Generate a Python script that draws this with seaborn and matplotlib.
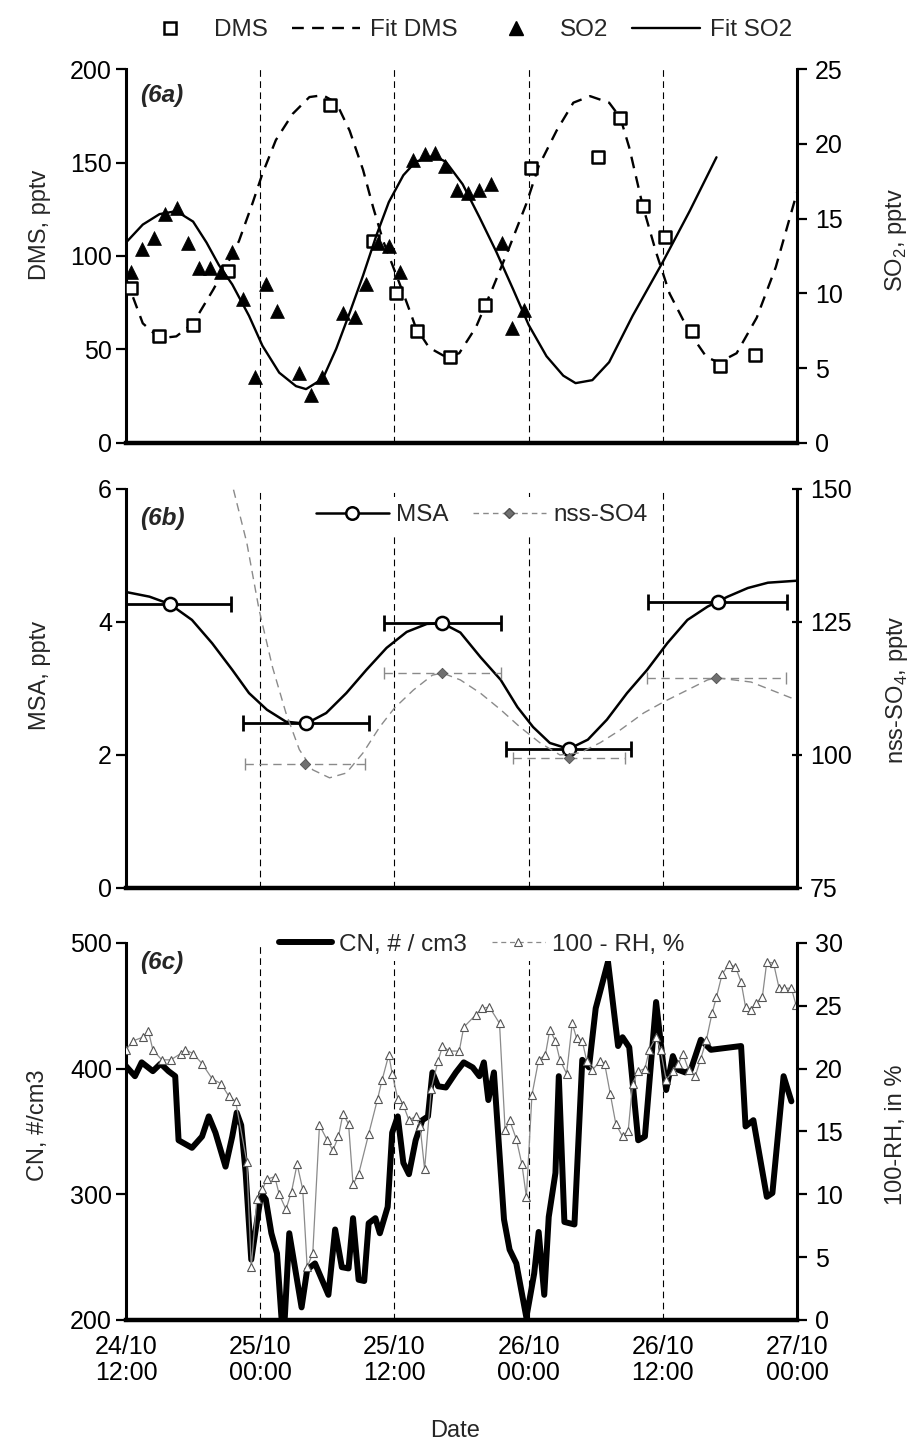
import matplotlib
matplotlib.use("Agg")
import matplotlib.pyplot as plt
from matplotlib.lines import Line2D
import seaborn as sns

# Estilo
sns.set_style("white")
plt.rcParams['font.family'] = ['Liberation Sans', 'DejaVu Sans']
plt.rcParams['mathtext.fontset'] = 'custom'
plt.rcParams['mathtext.rm'] = 'Liberation Sans'

# ---------------- datos (horas desde 24/10 12:00) ----------------
x_ticks = [0, 12, 24, 36, 48, 60]
x_ticklabels = ["24/10\n12:00", "25/10\n00:00", "25/10\n12:00",
                "26/10\n00:00", "26/10\n12:00", "27/10\n00:00"]
night_lines = [12, 24, 36, 48]

# (6a) DMS y SO2
dms_h = [0.45, 2.95, 6.0, 9.1, 18.2, 22.1, 24.1, 26.0, 29.0, 32.1, 36.2,
         42.2, 44.2, 46.2, 48.2, 50.6, 53.1, 56.2]
dms = [83, 57, 63, 92, 181, 108, 80, 60, 46, 74, 147, 153, 174, 127, 110,
       60, 41, 47]

fit_dms_h = [0, 0.5, 1.5, 3.0, 4.5, 6.0, 7.8, 8.9, 10.1, 11.3, 12.2, 13.4,
             14.9, 16.4, 17.6, 18.8, 20.0, 21.2, 22.1, 23.0, 23.9, 24.8,
             25.9, 27.1, 28.6, 29.8, 31.3, 32.8, 34.3, 35.8, 36.9, 38.5,
             40.0, 41.5, 43.2, 44.2, 45.0, 46.2, 47.4, 48.6, 50.4, 51.9,
             53.0, 54.6, 56.4, 58.1, 60.0]
fit_dms = [88, 80, 64, 56, 57, 64, 82, 94, 108, 128, 144, 162, 176, 185,
           186, 182, 167, 146, 126, 108, 94, 80, 62, 51, 46, 48, 62, 83,
           105, 128, 148, 167, 182, 185.5, 182, 174, 158, 127, 102, 80, 59,
           46, 43, 48, 67, 94, 134]

so2_h = [0.45, 1.4, 2.5, 3.5, 4.6, 5.5, 6.5, 7.5, 8.5, 9.5, 10.5, 11.5,
         12.5, 13.5, 15.5, 16.5, 17.5, 19.4, 20.5, 21.5, 22.5, 23.5, 24.5,
         25.7, 26.7, 27.6, 28.5, 29.6, 30.6, 31.6, 32.6, 33.6, 34.5, 35.6]
so2 = [11.4, 13.0, 13.7, 15.3, 15.7, 13.4, 11.7, 11.7, 11.4, 12.8, 9.6,
       4.4, 10.6, 8.8, 4.7, 3.2, 4.4, 8.7, 8.4, 10.6, 13.4, 13.2, 11.4,
       18.9, 19.3, 19.4, 18.5, 16.9, 16.7, 16.9, 17.3, 13.4, 7.7, 8.9]

fit_so2_h = [0, 1.5, 3.0, 4.5, 6.0, 7.2, 8.3, 9.5, 11.0, 12.2, 13.7, 15.2,
             16.1, 17.6, 18.8, 20.0, 21.2, 22.4, 23.5, 24.8, 25.9, 27.5,
             28.6, 30.1, 31.6, 33.1, 34.6, 36.0, 37.6, 39.1, 40.2, 41.7,
             43.2, 45.3, 48.0, 50.4, 52.8]
fit_so2 = [13.4, 14.6, 15.3, 15.5, 14.8, 13.4, 11.9, 10.6, 8.5, 6.5, 4.7,
           3.8, 3.6, 4.3, 6.3, 8.7, 11.2, 13.9, 16.1, 17.9, 18.8, 19.2,
           18.8, 17.3, 15.1, 12.8, 10.3, 7.9, 5.8, 4.5, 4.0, 4.2, 5.4, 8.5,
           12.1, 15.5, 19.1]

# (6b) MSA y nss-SO4
msa_h = [3.9, 16.1, 28.3, 39.6, 52.9]
msa = [4.27, 2.48, 3.98, 2.09, 4.30]
msa_xerr = [5.5, 5.6, 5.2, 5.6, 6.2]

msa_fit_h = [0, 2.1, 3.9, 5.9, 7.7, 9.5, 11.0, 12.6, 14.3, 16.1, 17.9, 19.7,
             21.5, 23.3, 25.1, 26.9, 28.3, 29.9, 31.7, 33.5, 35.0, 36.4,
             37.9, 39.6, 41.3, 43.0, 44.8, 46.6, 48.4, 50.2, 52.0, 53.8,
             55.6, 57.4, 60.0]
msa_fit = [4.45, 4.38, 4.27, 4.03, 3.68, 3.28, 2.93, 2.68, 2.50, 2.47, 2.63,
           2.93, 3.28, 3.61, 3.85, 3.97, 3.98, 3.84, 3.47, 3.13, 2.72, 2.42,
           2.18, 2.09, 2.23, 2.53, 2.93, 3.28, 3.68, 4.03, 4.23, 4.38, 4.51,
           4.59, 4.62]

nss_h = [16.0, 28.3, 39.6, 52.8]
nss = [98.3, 115.4, 99.4, 114.5]
nss_xerr = [5.4, 5.2, 5.0, 6.2]

nss_fit_h = [9.2, 9.5, 10.8, 11.9, 13.1, 14.3, 15.5, 16.7, 18.2, 19.7, 21.2,
             22.7, 24.0, 25.7, 27.4, 28.3, 29.9, 31.7, 33.5, 35.2, 37.0,
             38.8, 40.6, 42.4, 44.2, 46.3, 48.1, 50.2, 52.0, 52.8, 55.9,
             57.7, 59.5, 60.0]
nss_fit = [155, 150.8, 139.9, 127.3, 116.5, 107.9, 101.0, 97.2, 95.7, 96.6,
           100.4, 105.3, 108.8, 112.2, 115.0, 115.4, 114.1, 111.6, 108.5,
           105.3, 102.3, 100.0, 100.4, 102.3, 104.7, 107.9, 110.0, 112.2,
           114.1, 114.5, 113.7, 112.2, 110.7, 110.2]

# (6c) CN y 100-RH
cn_h = [0, 0.8, 1.4, 2.4, 3.1, 3.8, 4.4, 4.7, 5.9, 6.8, 7.4, 8.0, 8.9, 9.5,
        9.9, 10.3, 10.7, 11.2, 11.6, 12.1, 12.5, 13.0, 13.5, 13.9, 14.2,
        14.6, 15.7, 16.2, 16.9, 18.1, 18.7, 19.3, 19.9, 20.3, 20.8, 21.3,
        21.7, 22.3, 22.7, 23.4, 23.8, 24.3, 24.8, 25.3, 25.9, 26.5, 27.0,
        27.4, 27.9, 28.6, 29.5, 30.2, 31.0, 31.6, 32.0, 32.4, 32.9, 33.8,
        34.3, 34.9, 35.8, 36.5, 36.9, 37.4, 37.8, 38.4, 38.7, 39.2, 40.1,
        40.8, 41.4, 42.0, 43.1, 44.0, 44.4, 45.0, 45.8, 46.4, 47.4, 48.3,
        48.9, 49.4, 50.0, 50.5, 51.4, 52.3, 55.0, 55.4, 56.1, 57.3, 57.8,
        58.8, 59.5]
cn = [402, 394, 405, 398, 404, 398, 394, 343, 337, 346, 362, 349, 322, 346,
      365, 355, 317, 248, 272, 301, 296, 269, 253, 202, 202, 269, 210, 240,
      245, 220, 272, 242, 241, 281, 232, 231, 277, 281, 269, 290, 349, 362,
      325, 316, 343, 359, 362, 397, 386, 385, 397, 405, 401, 394, 405, 375,
      397, 280, 256, 245, 202, 237, 270, 220, 282, 317, 394, 278, 276, 407,
      401, 448, 485, 418, 425, 417, 343, 346, 453, 383, 410, 399, 397, 399,
      423, 415, 418, 354, 359, 298, 301, 394, 374]

rh_h = [0.0, 0.6, 1.5, 2.0, 2.4, 3.2, 4.0, 4.9, 5.3, 6.0, 6.8, 7.7, 8.5, 9.2,
        9.8, 10.8, 11.2, 11.7, 12.2, 12.6, 13.3, 13.7, 14.3, 14.8, 15.3,
        15.8, 16.2, 16.7, 17.3, 18.0, 18.5, 19.0, 19.4, 19.9, 20.3, 20.8,
        21.7, 22.5, 22.9, 23.5, 23.8, 24.3, 24.8, 25.3, 25.9, 26.3, 26.7,
        27.3, 27.9, 28.3, 28.9, 29.8, 30.2, 31.3, 31.8, 32.5, 33.4, 33.9,
        34.3, 34.9, 35.4, 35.8, 36.3, 36.9, 37.5, 37.9, 38.4, 38.8, 39.4,
        39.9, 40.3, 40.8, 41.2, 41.7, 42.4, 42.8, 43.3, 43.8, 44.4, 44.9,
        45.3, 45.8, 46.4, 46.8, 47.4, 47.8, 48.3, 48.9, 49.4, 49.8, 50.3,
        50.9, 51.4, 51.9, 52.4, 52.8, 53.3, 53.9, 54.5, 55.0, 55.4, 55.9,
        56.3, 56.9, 57.3, 57.9, 58.4, 58.8, 59.5, 59.9]
rh = [21.5, 22.2, 22.5, 23.0, 21.5, 20.7, 20.7, 21.2, 21.5, 21.2, 20.4, 19.2,
      18.8, 17.8, 17.4, 12.6, 4.2, 9.6, 10.4, 11.2, 11.4, 10.0, 8.8, 10.2,
      12.4, 10.4, 4.2, 5.3, 15.5, 14.3, 13.5, 14.6, 16.4, 15.6, 10.8, 11.6,
      14.8, 17.6, 19.1, 21.1, 19.6, 17.6, 17.1, 15.9, 16.2, 15.4, 12.0, 18.4,
      20.6, 21.8, 21.4, 21.4, 23.3, 24.3, 24.8, 24.9, 23.6, 15.1, 15.9, 14.4,
      12.4, 9.8, 17.9, 20.7, 21.1, 23.1, 22.2, 20.7, 19.6, 23.6, 22.4, 22.2,
      20.6, 19.9, 20.6, 20.4, 18.0, 15.6, 14.6, 15.0, 18.8, 19.8, 20.0, 21.5,
      22.5, 21.5, 19.1, 19.8, 20.4, 21.2, 19.9, 19.4, 20.8, 22.3, 24.4, 25.7,
      27.5, 28.3, 28.1, 26.9, 24.9, 24.7, 25.2, 25.7, 28.5, 28.4, 26.4, 26.4,
      26.4, 25.1]

FS = 18      # ticks
FL = 17.5    # leyendas
FY = 17      # etiquetas de ejes
GRAY = '#8a8a8a'


def style_axes(ax, ax2, right_dir='out'):
    """Ejes tipo Excel: sin marco superior, ejes gruesos"""
    for s in ['top', 'right']:
        ax.spines[s].set_visible(False)
    for s in ['top', 'left', 'bottom']:
        ax2.spines[s].set_visible(False)
    ax.spines['left'].set_linewidth(2.2)
    ax.spines['bottom'].set_linewidth(3.2)
    ax2.spines['right'].set_linewidth(2.2)
    for sp in list(ax.spines.values()) + list(ax2.spines.values()):
        sp.set_color('black')
    ax.set_xlim(0, 60)
    ax.set_xticks(x_ticks)
    ax.tick_params(axis='x', direction='inout', length=10, width=1.6,
                   colors='black', labelsize=FS, pad=6)
    ax.tick_params(axis='y', direction='out', length=7, width=1.6,
                   colors='black', labelsize=FS, pad=3, left=True)
    ax2.tick_params(axis='y', direction=right_dir, length=7, width=1.6,
                    colors='black', labelsize=FS, pad=6, right=True)
    for xv in night_lines:
        ax.axvline(xv, color='black', linewidth=0.8, linestyle=(0, (6, 4)),
                   zorder=0)


fig = plt.figure(figsize=(9.1, 14.41), dpi=100)
L, W = 126 / 910, 671 / 910

# ---------------- (6a) ----------------
axa = fig.add_axes([L, 0.6926, W, 0.2595])
axa2 = axa.twinx()
style_axes(axa, axa2)
sns.lineplot(x=fit_dms_h, y=fit_dms, ax=axa, color='black', linewidth=1.7,
             linestyle=(0, (5, 3.5)), sort=False, estimator=None)
sns.scatterplot(x=dms_h, y=dms, ax=axa, marker='s', s=80, color='white',
                edgecolor='black', linewidth=1.8, zorder=4)
sns.lineplot(x=fit_so2_h, y=fit_so2, ax=axa2, color='black', linewidth=1.7,
             sort=False, estimator=None)
sns.scatterplot(x=so2_h, y=so2, ax=axa2, marker='^', s=100, color='black',
                edgecolor='black', linewidth=0.5, zorder=4)
axa.set_ylim(0, 200)
axa.set_yticks([0, 50, 100, 150, 200])
axa2.set_ylim(0, 25)
axa2.set_yticks([0, 5, 10, 15, 20, 25])
axa.set_xlim(0, 60)
axa.tick_params(axis='x', labelbottom=False)
axa.text(0.021, 0.93, '(6a)', transform=axa.transAxes, fontsize=FL,
         fontweight='bold', fontstyle='italic', va='center')

h_a = [Line2D([], [], linestyle='none', marker='s', markersize=9,
              markerfacecolor='white', markeredgecolor='black',
              markeredgewidth=1.8),
       Line2D([], [], color='black', linewidth=1.7, linestyle=(0, (5, 3.5))),
       Line2D([], [], linestyle='none', marker='^', markersize=10,
              color='black'),
       Line2D([], [], color='black', linewidth=1.7)]
fig.legend(h_a, ['DMS', 'Fit DMS', 'SO2', 'Fit SO2'], loc='center',
           bbox_to_anchor=(0.51, 0.979), ncol=4, frameon=False,
           fontsize=FL, handlelength=2.8, columnspacing=1.0,
           handletextpad=0.4)

# ---------------- (6b) ----------------
axb = fig.add_axes([L, 0.3838, W, 0.2769])
axb2 = axb.twinx()
style_axes(axb, axb2, right_dir='inout')
sns.lineplot(x=msa_fit_h, y=msa_fit, ax=axb, color='black', linewidth=1.8,
             sort=False, estimator=None)
axb.errorbar(msa_h, msa, xerr=msa_xerr, fmt='none', ecolor='black',
             elinewidth=2.0, capsize=6, capthick=2.0, zorder=3)
sns.scatterplot(x=msa_h, y=msa, ax=axb, marker='o', s=90, color='white',
                edgecolor='black', linewidth=1.8, zorder=5)
sns.lineplot(x=nss_fit_h, y=nss_fit, ax=axb2, color=GRAY, linewidth=1.0,
             linestyle=(0, (6, 4)), sort=False, estimator=None)
eb = axb2.errorbar(nss_h, nss, xerr=nss_xerr, fmt='none', ecolor=GRAY,
                   elinewidth=1.0, capsize=4, capthick=1.0, zorder=3)
eb[2][0].set_linestyle((0, (6, 4)))
sns.scatterplot(x=nss_h, y=nss, ax=axb2, marker='D', s=28, color='#707070',
                edgecolor='#505050', linewidth=0.6, zorder=5)
axb.set_ylim(0, 6)
axb.set_yticks([0, 2, 4, 6])
axb2.set_ylim(75, 150)
axb2.set_yticks([75, 100, 125, 150])
axb.set_xlim(0, 60)
axb.tick_params(axis='x', labelbottom=False)
axb.text(0.021, 0.925, '(6b)', transform=axb.transAxes, fontsize=FL,
         fontweight='bold', fontstyle='italic', va='center')
h_b = [Line2D([], [], color='black', linewidth=1.8, marker='o',
              markersize=9, markerfacecolor='white',
              markeredgecolor='black', markeredgewidth=1.8),
       Line2D([], [], color=GRAY, linewidth=1.0, linestyle=(0, (4, 3)),
              marker='D', markersize=5, markerfacecolor='#707070',
              markeredgecolor='#505050')]
leg_b = axb2.legend(h_b, ['MSA', 'nss-SO4'], loc='upper center',
                    bbox_to_anchor=(0.53, 1.01), ncol=2, fontsize=FL,
                    frameon=True, framealpha=1, facecolor='white',
                    edgecolor='none', handlelength=3.0, columnspacing=1.0,
                    handletextpad=0.3, borderpad=0.3)
leg_b.set_zorder(10)

# ---------------- (6c) ----------------
axc = fig.add_axes([L, 0.0840, W, 0.2616])
axc2 = axc.twinx()
style_axes(axc, axc2)
sns.lineplot(x=cn_h, y=cn, ax=axc, color='black', linewidth=4.3,
             sort=False, estimator=None)
sns.lineplot(x=rh_h, y=rh, ax=axc2, color=GRAY, linewidth=0.9, marker='^',
             markersize=6, markerfacecolor='white', markeredgecolor='#555555',
             markeredgewidth=0.8, sort=False, estimator=None)
axc.set_ylim(200, 500)
axc.set_yticks([200, 300, 400, 500])
axc2.set_ylim(0, 30)
axc2.set_yticks([0, 5, 10, 15, 20, 25, 30])
axc.set_xlim(0, 60)
axc.set_xticklabels(x_ticklabels, fontsize=FS, linespacing=1.1)
axc.text(0.021, 0.947, '(6c)', transform=axc.transAxes, fontsize=FL,
         fontweight='bold', fontstyle='italic', va='center')
h_c = [Line2D([], [], color='black', linewidth=4.3),
       Line2D([], [], color=GRAY, linewidth=0.9, linestyle=(0, (4, 3)),
              marker='^', markersize=6, markerfacecolor='white',
              markeredgecolor='#555555', markeredgewidth=0.8)]
leg_c = axc2.legend(h_c, ['CN, # / cm3', '100 - RH, %'], loc='center',
                    bbox_to_anchor=(0.53, 0.995), ncol=2, fontsize=FL,
                    frameon=True, framealpha=1, facecolor='white',
                    edgecolor='none', handlelength=2.2, columnspacing=1.0,
                    handletextpad=0.3, borderpad=0.2)
leg_c.set_zorder(10)

# etiquetas de ejes
fig.text(40 / 910, 1 - 225 / 1441, 'DMS, pptv', rotation=90, fontsize=FY,
         ha='center', va='center')
fig.text(896 / 910, 1 - 240 / 1441, 'SO$_2$, pptv', rotation=90,
         fontsize=FY, ha='center', va='center')
fig.text(40 / 910, 1 - 675 / 1441, 'MSA, pptv', rotation=90, fontsize=FY,
         ha='center', va='center')
fig.text(897 / 910, 1 - 690 / 1441, 'nss-SO$_4$, pptv', rotation=90,
         fontsize=FY, ha='center', va='center')
fig.text(38 / 910, 1 - 1125 / 1441, 'CN, #/cm3', rotation=90, fontsize=FY,
         ha='center', va='center')
fig.text(896 / 910, 1 - 1135 / 1441, '100-RH, in %', rotation=90,
         fontsize=FY, ha='center', va='center')
fig.text(0.5, 10 / 1441, 'Date', fontsize=FY, ha='center', va='center')

for a in [axa, axa2, axb, axb2, axc, axc2]:
    a.set_xlabel('')
    a.set_ylabel('')
    lg = a.get_legend()
    if lg is not None and lg not in (leg_b, leg_c):
        lg.remove()

fig.savefig('out.png', dpi=100)
